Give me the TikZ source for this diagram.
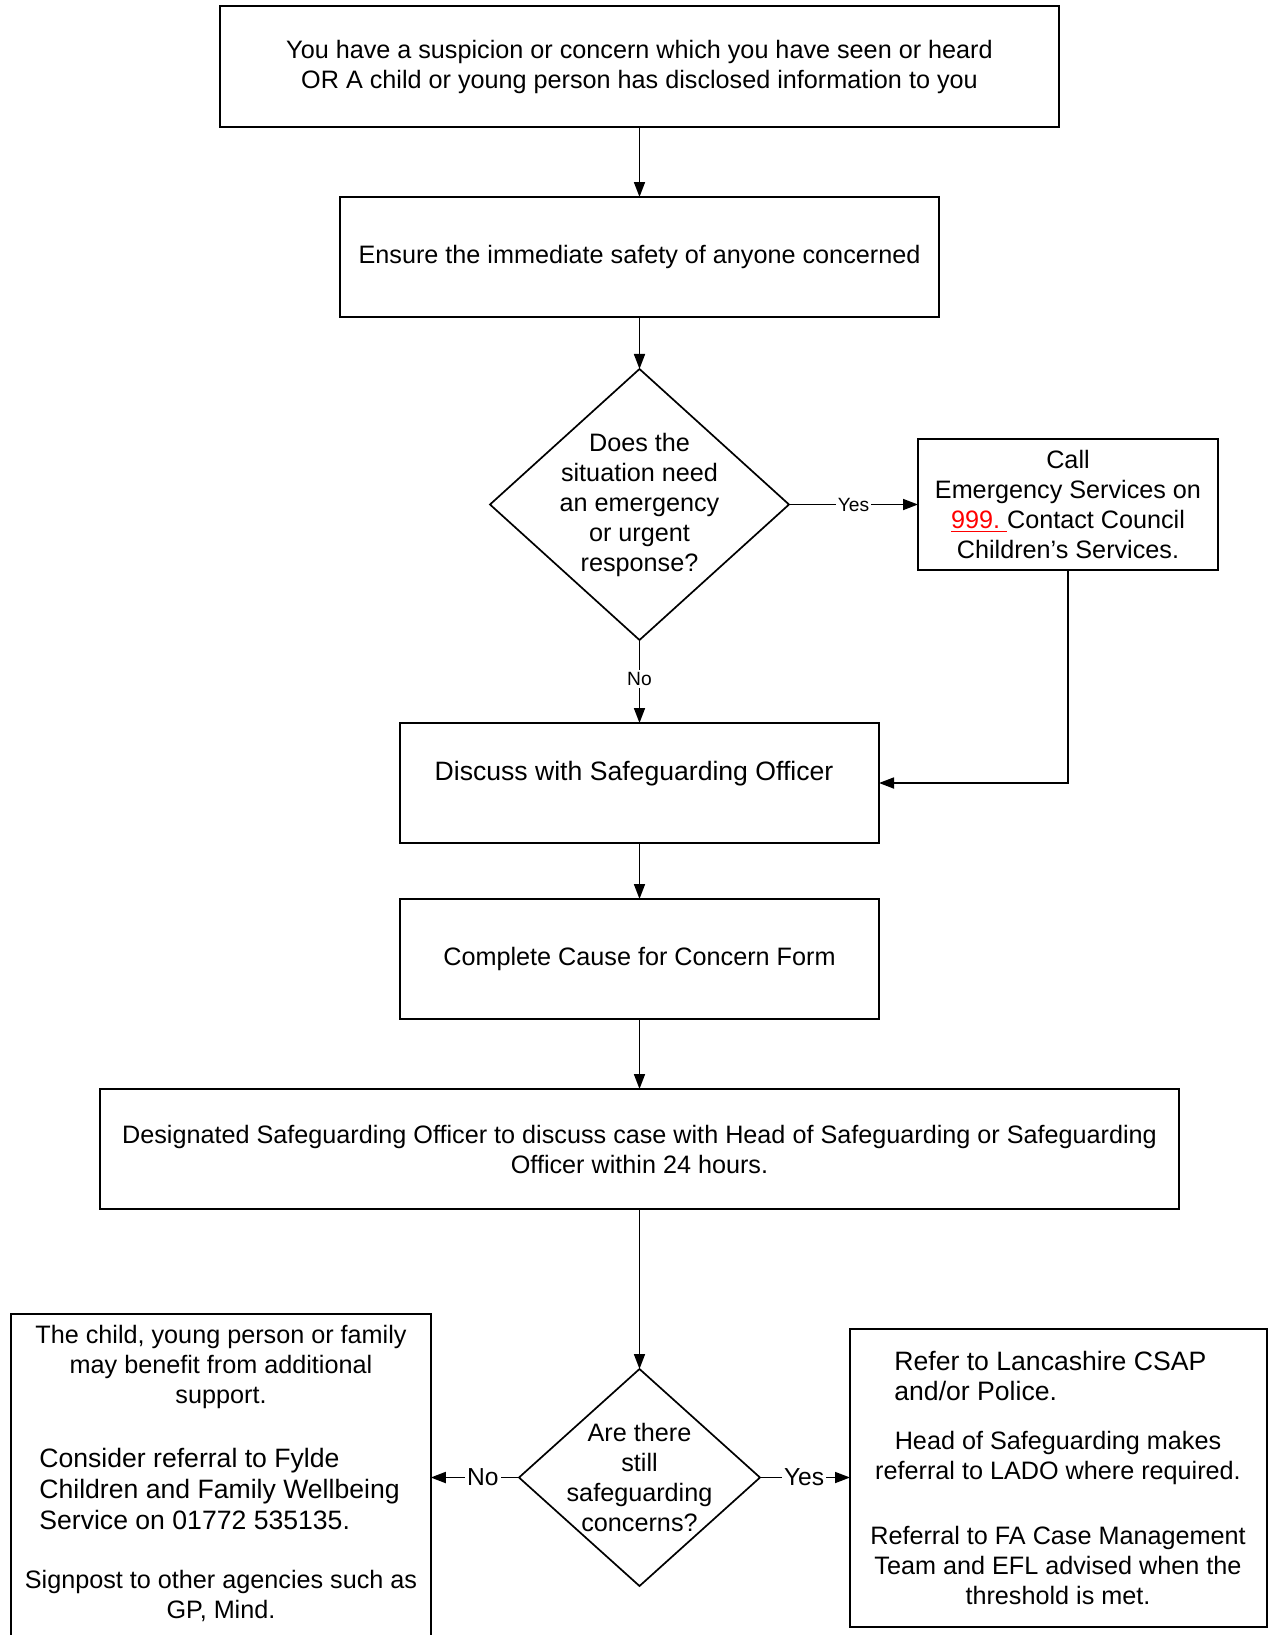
\documentclass[tikz,border=0pt]{standalone}
\usepackage{fontspec}
\setmainfont{Liberation Sans}
\usetikzlibrary{positioning,arrows.meta,shapes.geometric}

\begin{document}
\begin{tikzpicture}[x=0.5pt,y=-0.5pt,>={Triangle[length=7.5pt,width=5.5pt]},
  box/.style={draw,line width=0.85pt,inner sep=0pt,outer sep=0pt,align=center,font=\fontsize{12.6}{15}\selectfont},
  decision/.style={draw,diamond,line width=0.85pt,inner sep=0pt,outer sep=0pt},
  flow/.style={->,line width=0.85pt},
  ans/.style={fill=white,inner sep=1pt,font=\fontsize{9.6}{11}\selectfont},
  ansbig/.style={fill=white,inner sep=1pt,font=\fontsize{12.3}{14}\selectfont},
  body/.style={align=center,inner sep=0pt,font=\fontsize{12.6}{15}\selectfont},
  big/.style={align=left,inner sep=0pt,font=\fontsize{13.3}{15.3}\selectfont}]
\useasboundingbox (0,0) rectangle (1269,1635);
\node[box,minimum width=419.5pt,minimum height=60.5pt] (concern) at (639.5,66.5) {You have a suspicion or concern which you have seen or heard\\OR A child or young person has disclosed information to you};
\node[box,minimum width=299.5pt,minimum height=60pt] (safety) at (639.5,257) {Ensure the immediate safety of anyone concerned};
\node[decision,minimum width=149.5pt,minimum height=135.5pt,label={[body]center:Does the\\situation need\\an emergency\\or urgent\\response?}] (urgent) at (639.5,504.5) {};
\node[box,minimum width=150pt,minimum height=65.5pt] (call) at (1068,504.5) {Call\\Emergency Services on\\\textcolor{red}{\underline{999.\ }}Contact Council\\Children’s Services.};
\node[box,minimum width=239.5pt,minimum height=60pt,label={[big,xshift=-2.75pt,yshift=4.5pt]center:Discuss with Safeguarding Officer}] (discuss) at (639.5,783) {};
\node[box,minimum width=239.5pt,minimum height=60pt] (form) at (639.5,959) {Complete Cause for Concern Form};
\node[box,minimum width=539.5pt,minimum height=60pt] (designated) at (639.5,1149) {Designated Safeguarding Officer to discuss case with Head of Safeguarding or Safeguarding\\Officer within 24 hours.};
\node[decision,minimum width=120.5pt,minimum height=108.5pt,label={[body]center:Are there\\still\\safeguarding\\concerns?}] (stillchk) at (639.5,1477.5) {};
\node[box,minimum width=209.75pt,minimum height=173pt] (support) at (221,1487) {};
\node[body] (support1) at (221,1367) {The child, young person or family\\may benefit from additional\\support.};
\node[big,anchor=west] (support2) at (39,1489) {Consider referral to Fylde\\Children and Family Wellbeing\\Service on 01772 535135.};
\node[body] (support3) at (221,1596) {Signpost to other agencies such as\\GP, Mind.};
\node[box,minimum width=208.5pt,minimum height=149pt] (refer) at (1058.5,1478) {};
\node[big,anchor=west] (refer1) at (894,1376) {Refer to Lancashire CSAP\\and/or Police.};
\node[body] (refer2) at (1058,1458) {Head of Safeguarding makes\\referral to LADO where required.};
\node[body] (refer3) at (1058,1565) {Referral to FA Case Management\\Team and EFL advised when the\\threshold is met.};
\draw[flow] (concern) -- (safety);
\draw[flow] (safety) -- (urgent);
\draw[flow] (urgent) -- node[ans]{Yes} (call);
\draw[flow] (urgent) -- node[ans,pos=0.47]{No} (discuss);
\draw[flow] (call.south) |- (discuss.east);
\draw[flow] (discuss) -- (form);
\draw[flow] (form) -- (designated);
\draw[flow] (designated) -- (stillchk);
\draw[flow] (stillchk) -- node[ansbig,pos=0.41]{No} (stillchk -| support.east);
\draw[flow] (stillchk) -- node[ansbig,pos=0.49]{Yes} (stillchk -| refer.west);
\end{tikzpicture}
\end{document}
